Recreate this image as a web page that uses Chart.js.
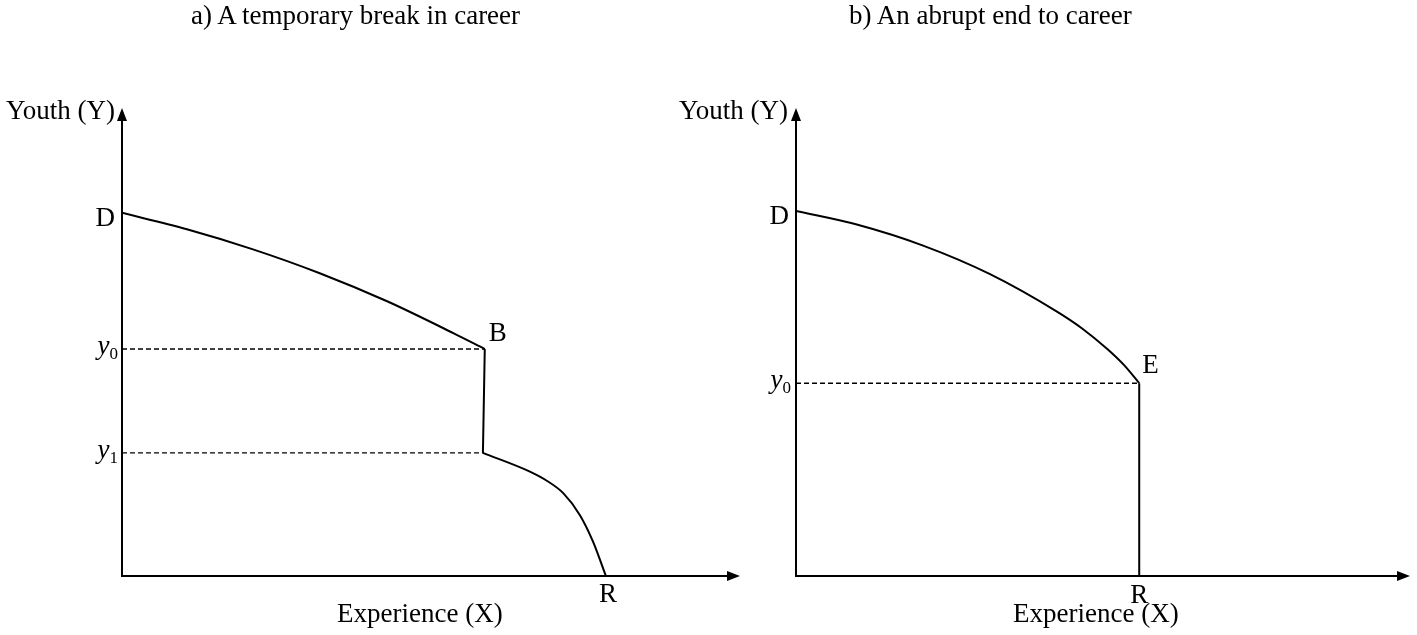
<!DOCTYPE html>
<html>
<head>
<meta charset="utf-8">
<title>Youth and experience</title>
<script src="https://cdn.jsdelivr.net/npm/chart.js@4.4.0/dist/chart.umd.min.js"></script>
<style>
  html, body { margin: 0; padding: 0; background: #fff; }
  #wrap { position: relative; width: 1417px; height: 635px; overflow: hidden; }
  .panel { position: absolute; top: 0; height: 635px; }
  .txt {
    position: absolute;
    font-family: "Liberation Serif", "Times New Roman", serif;
    font-size: 27px;
    line-height: 27px;
    white-space: nowrap;
    color: #000;
  }
</style>
</head>
<body>
<div id="wrap">
  <div class="panel" style="left:0;width:760px"><canvas id="chart-a"></canvas></div>
  <div class="panel" style="left:760px;width:657px"><canvas id="chart-b"></canvas></div>

  <div class="txt" style="left:191px;top:2px">a) A temporary break in career</div>
  <div class="txt" style="left:849px;top:2px">b) An abrupt end to career</div>
  <div class="txt" style="right:1302px;top:97px">Youth (Y)</div>
  <div class="txt" style="right:629px;top:97px">Youth (Y)</div>
  <div class="txt" style="left:337px;top:600px">Experience (X)</div>
  <div class="txt" style="left:1013px;top:600px">Experience (X)</div>
</div>

<script>
// panel a) - a temporary break: curve D -> B, drop to y1, then curve to R
var aUpperX = [0, 10.5, 21.2, 32.0, 42.9, 53.6, 58.7];
var aUpperY = [77.6, 74.1, 69.8, 64.7, 58.7, 51.9, 48.5];
var aLowerX = [58.4, 66.0, 68.8, 71.4, 74.1, 76.2, 78.3];
var aLowerY = [26.3, 22.3, 20.3, 17.7, 13.0, 7.4, 0];

// panel b) - an abrupt end: curve D -> E, then straight down to R
var bUpperX = [0, 9.9, 20.7, 31.6, 42.5, 46.6, 50.7, 53.4, 55.9];
var bUpperY = [78.0, 75.1, 70.6, 64.5, 56.5, 52.9, 48.5, 45.1, 41.2];

var SERIF = '"Liberation Serif", "Times New Roman", serif';


function toPoints(xs, ys) {
  var pts = [];
  for (var i = 0; i < xs.length; i++) {
    pts.push({ x: xs[i], y: ys[i] });
  }
  return pts;
}

function last(arr) {
  return arr[arr.length - 1];
}

function curve(points) {
  return {
    data: points,
    showLine: true,
    borderColor: '#000',
    borderWidth: 2,
    pointRadius: 0,
    cubicInterpolationMode: 'monotone',
    fill: false
  };
}

function straight(points) {
  return {
    data: points,
    showLine: true,
    borderColor: '#000',
    borderWidth: 2,
    pointRadius: 0,
    tension: 0,
    fill: false
  };
}

function dashed(points) {
  return {
    data: points,
    showLine: true,
    borderColor: '#000',
    borderWidth: 1.4,
    borderDash: [5, 3],
    pointRadius: 0,
    tension: 0,
    fill: false
  };
}


// draws the two arrowed axes and the point labels (D, B, E, R, y0, y1)
var diagramPlugin = {
  id: 'diagram',
  afterDatasetsDraw: function(chart, args, opts) {
    var ctx = chart.ctx;
    var xs = chart.scales.x;
    var ys = chart.scales.y;
    var ox = xs.getPixelForValue(0);
    var oy = ys.getPixelForValue(0);
    var xEnd = xs.getPixelForValue(xs.max);
    var yEnd = ys.getPixelForValue(ys.max);

    ctx.save();
    ctx.strokeStyle = '#000';
    ctx.fillStyle = '#000';
    ctx.lineWidth = 2;
    ctx.setLineDash([]);

    ctx.beginPath();
    ctx.moveTo(ox, oy);
    ctx.lineTo(xEnd - 8, oy);
    ctx.moveTo(ox, oy + 1);
    ctx.lineTo(ox, yEnd + 8);
    ctx.stroke();

    // arrow heads
    ctx.beginPath();
    ctx.moveTo(xEnd, oy);
    ctx.lineTo(xEnd - 13, oy - 5);
    ctx.lineTo(xEnd - 13, oy + 5);
    ctx.closePath();
    ctx.fill();
    ctx.beginPath();
    ctx.moveTo(ox, yEnd);
    ctx.lineTo(ox - 5, yEnd + 13);
    ctx.lineTo(ox + 5, yEnd + 13);
    ctx.closePath();
    ctx.fill();

    ctx.textBaseline = 'alphabetic';
    opts.labels.forEach(function(l) {
      var px = xs.getPixelForValue(l.x) + l.dx;
      var py = ys.getPixelForValue(l.y) + l.dy;
      if (l.sub) {
        // italic y with a small subscript, right-aligned at px
        ctx.font = '17px ' + SERIF;
        var subW = ctx.measureText(l.sub).width;
        ctx.textAlign = 'right';
        ctx.fillText(l.sub, px, py + 5);
        ctx.font = 'italic 27px ' + SERIF;
        ctx.fillText(l.text, px - subW, py);
      } else {
        ctx.font = '27px ' + SERIF;
        ctx.textAlign = l.align || 'left';
        ctx.fillText(l.text, px, py);
      }
    });
    ctx.restore();
  }
};


function makeChart(id, datasets, padding, labels) {
  return new Chart(document.getElementById(id), {
    type: 'scatter',
    data: { datasets: datasets },
    plugins: [diagramPlugin],
    options: {
      responsive: true,
      maintainAspectRatio: false,
      animation: false,
      layout: { padding: padding },
      scales: {
        x: { type: 'linear', min: 0, max: 100, display: false },
        y: { type: 'linear', min: 0, max: 100, display: false }
      },
      plugins: {
        legend: { display: false },
        tooltip: { enabled: false },
        diagram: { labels: labels }
      }
    }
  });
}


document.addEventListener('DOMContentLoaded', function() {
  var aB = { x: last(aUpperX), y: last(aUpperY) };
  var aY1 = { x: aLowerX[0], y: aLowerY[0] };

  makeChart('chart-a', [
    curve(toPoints(aUpperX, aUpperY)),
    straight([aB, aY1]),
    curve(toPoints(aLowerX, aLowerY)),
    dashed([{ x: 0, y: aB.y }, aB]),
    dashed([{ x: 0, y: aY1.y }, aY1])
  ], { left: 122, right: 20, top: 108, bottom: 59 }, [
    { text: 'D', x: 0, y: aUpperY[0], dx: -7, dy: 13, align: 'right' },
    { text: 'B', x: aB.x, y: aB.y, dx: 4, dy: -8 },
    { text: 'R', x: last(aLowerX), y: 0, dx: 2, dy: 26, align: 'center' },
    { text: 'y', sub: '0', x: 0, y: aB.y, dx: -4, dy: 5 },
    { text: 'y', sub: '1', x: 0, y: aY1.y, dx: -4, dy: 5 }
  ]);

  var bE = { x: last(bUpperX), y: last(bUpperY) };

  makeChart('chart-b', [
    curve(toPoints(bUpperX, bUpperY)),
    straight([bE, { x: bE.x, y: 0 }]),
    dashed([{ x: 0, y: bE.y }, bE])
  ], { left: 36, right: 7, top: 108, bottom: 59 }, [
    { text: 'D', x: 0, y: bUpperY[0], dx: -7, dy: 13, align: 'right' },
    { text: 'E', x: bE.x, y: bE.y, dx: 3, dy: -10 },
    { text: 'R', x: bE.x, y: 0, dx: 0, dy: 27, align: 'center' },
    { text: 'y', sub: '0', x: 0, y: bE.y, dx: -5, dy: 5 }
  ]);
});
</script>
</body>
</html>
